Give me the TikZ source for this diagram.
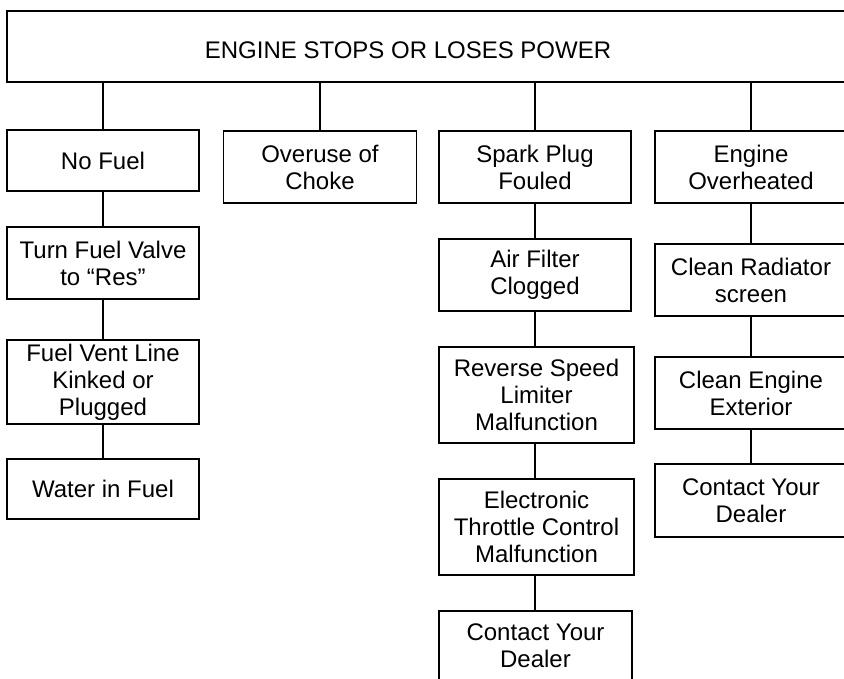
\documentclass[tikz,border=0pt]{standalone}
\usepackage{fontspec}
\setmainfont{Liberation Sans}
\begin{document}
\begin{tikzpicture}[x=1pt,y=-1pt,
  box/.style={draw=black,line width=1.5pt,rectangle,inner sep=0pt,align=center,
    font=\fontsize{24}{27}\selectfont},
  link/.style={draw=black,line width=1.5pt}]
\useasboundingbox (0,0) rectangle (844,679);
% top
\node[box,minimum width=840pt,minimum height=71pt,
  label={[xshift=-19pt,yshift=-4pt,font=\fontsize{24}{27}\selectfont]center:ENGINE STOPS OR LOSES POWER}]
  (top) at (427,46.5) {};
% column 1
\node[box,minimum width=192pt,minimum height=61pt] (nofuel) at (103,160.5) {No Fuel};
\node[box,minimum width=192pt,minimum height=72pt] (valve) at (103,263) {Turn Fuel Valve\\to “Res”};
\node[box,minimum width=192pt,minimum height=84pt] (vent) at (103,382) {Fuel Vent Line\\Kinked or\\Plugged};
\node[box,minimum width=192pt,minimum height=60pt] (water) at (103,489) {Water in Fuel};
% column 2
\node[box,minimum width=193pt,minimum height=72pt] (choke) at (320,167) {Overuse of\\Choke};
% column 3
\node[box,minimum width=192pt,minimum height=72pt] (spark) at (535,167) {Spark Plug\\Fouled};
\node[box,minimum width=192pt,minimum height=72pt] (air) at (535,275) {Air Filter\\Clogged};
\node[box,minimum width=195pt,minimum height=96pt] (rev) at (536.5,395) {Reverse Speed\\Limiter\\Malfunction};
\node[box,minimum width=195pt,minimum height=96pt] (etc) at (536.5,527) {Electronic\\Throttle Control\\Malfunction};
\node[box,minimum width=193pt,minimum height=70pt] (dealerc) at (535.5,646) {Contact Your\\Dealer};
% column 4
\node[box,minimum width=192pt,minimum height=72pt] (over) at (751,167) {Engine\\Overheated};
\node[box,minimum width=192pt,minimum height=72pt] (rad) at (751,280) {Clean Radiator\\screen};
\node[box,minimum width=192pt,minimum height=72pt] (ext) at (751,393) {Clean Engine\\Exterior};
\node[box,minimum width=192pt,minimum height=73pt] (dealerd) at (751,500.5) {Contact Your\\Dealer};
% connectors
\draw[link] (top.south -| nofuel.north) -- (nofuel.north);
\draw[link] (top.south -| choke.north) -- (choke.north);
\draw[link] (top.south -| spark.north) -- (spark.north);
\draw[link] (top.south -| over.north) -- (over.north);
\draw[link] (nofuel) -- (valve);
\draw[link] (valve) -- (vent);
\draw[link] (vent) -- (water);
\draw[link] (spark) -- (air);
\draw[link] (air.south) -- (air.south |- rev.north);
\draw[link] (rev.south -| air.south) -- (air.south |- etc.north);
\draw[link] (etc.south -| air.south) -- (air.south |- dealerc.north);
\draw[link] (over) -- (rad);
\draw[link] (rad) -- (ext);
\draw[link] (ext) -- (dealerd);
\end{tikzpicture}
\end{document}
